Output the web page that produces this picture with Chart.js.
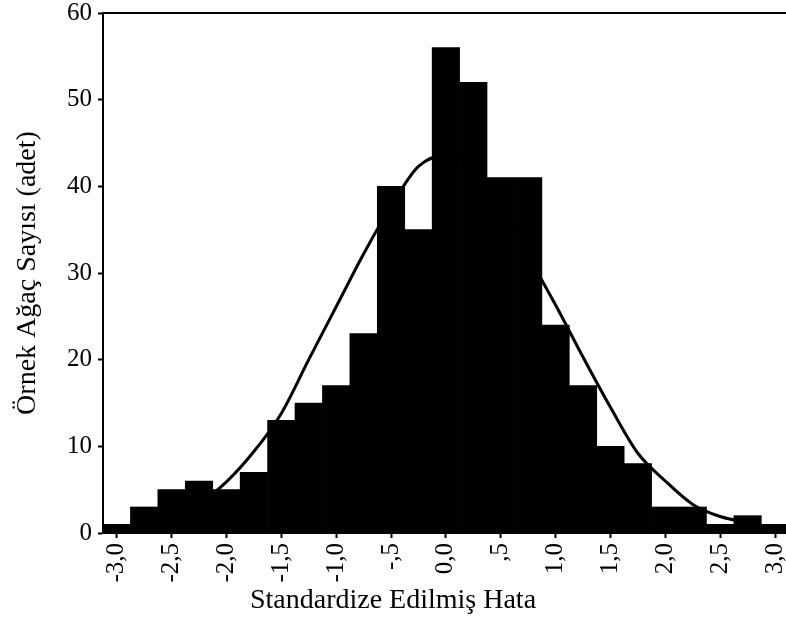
<!DOCTYPE html>
<html>
<head>
<meta charset="utf-8">
<script src="https://cdn.jsdelivr.net/npm/chart.js@4/dist/chart.umd.min.js"></script>
<style>
  body { margin: 0; background: #fff; }
  canvas { display: block; }
</style>
</head>
<body>
<canvas id="histChart" width="786" height="637"></canvas>
<script>
'use strict';

// bin centres of the histogram (width 0,25)
var binCenters = [-3.0, -2.75, -2.5, -2.25, -2.0, -1.75, -1.5, -1.25, -1.0, -0.75, -0.5, -0.25,
                  0.0, 0.25, 0.5, 0.75, 1.0, 1.25, 1.5, 1.75, 2.0, 2.25, 2.5, 2.75, 3.0];
// number of sample trees in each bin
var treeCounts = [1, 3, 5, 6, 5, 7, 13, 15, 17, 23, 40, 35,
                  56, 52, 41, 41, 24, 17, 10, 8, 3, 3, 1, 2, 1];
// fitted normal curve, read at the same bin centres
var normalCurve = [0.4, 1.0, 2.0, 3.4, 5.9, 9.4, 13.8, 20.0, 26.1, 32.2, 37.7, 42.3,
                   43.6, 42.0, 37.5, 32.0, 26.3, 20.3, 14.5, 9.2, 6.0, 3.3, 1.9, 1.2, 0.6];

var xTickValues = [-3.0, -2.5, -2.0, -1.5, -1.0, -0.5, 0.0, 0.5, 1.0, 1.5, 2.0, 2.5, 3.0];
var xTickLabels = ['-3,0', '-2,5', '-2,0', '-1,5', '-1,0', '-,5', '0,0', ',5', '1,0', '1,5', '2,0', '2,5', '3,0'];

var serif = "'Liberation Serif', 'Times New Roman', serif";

function toPoints(xs, ys) {
    var pts = [];
    for (var i = 0; i < xs.length; i++) {
        pts.push({ x: xs[i], y: ys[i] });
    }
    return pts;
}

// line along the top of the plot area
var topFrame = {
    id: 'topFrame',
    afterDraw: function (chart) {
        var ctx = chart.ctx, area = chart.chartArea;
        ctx.save();
        ctx.strokeStyle = '#000';
        ctx.lineWidth = 2;
        ctx.beginPath();
        ctx.moveTo(area.left, area.top);
        ctx.lineTo(area.right, area.top);
        ctx.stroke();
        ctx.restore();
    }
};

var config = {
    type: 'bar',
    data: {
        datasets: [{
            type: 'line',
            data: toPoints(binCenters, normalCurve),
            borderColor: '#000',
            borderWidth: 3,
            pointRadius: 0,
            cubicInterpolationMode: 'monotone',
            order: 0
        }, {
            type: 'bar',
            data: toPoints(binCenters, treeCounts),
            backgroundColor: '#000',
            borderWidth: 0,
            barPercentage: 1.0,
            categoryPercentage: 1.0,
            order: 1
        }]
    },
    options: {
        responsive: false,
        animation: false,
        layout: { padding: { top: 13, left: 0, right: 0, bottom: 0 } },
        plugins: {
            legend: { display: false },
            tooltip: { enabled: false },
            // x axis caption, centred on the whole canvas
            title: {
                display: true,
                position: 'bottom',
                text: 'Standardize Edilmiş Hata',
                color: '#000',
                font: { family: serif, size: 28, weight: 'normal', lineHeight: 1.2 },
                padding: { top: 0, bottom: 20 }
            }
        },
        scales: {
            x: {
                type: 'linear',
                min: -3.125,
                max: 3.1,
                offset: false,
                grid: {
                    offset: false,
                    drawOnChartArea: false,
                    drawTicks: true,
                    tickLength: 5,
                    tickWidth: 2,
                    tickColor: '#000'
                },
                border: { display: true, color: '#000', width: 2 },
                afterBuildTicks: function (scale) {
                    scale.ticks = xTickValues.map(function (v) { return { value: v }; });
                },
                afterFit: function (scale) {
                    scale.height = 50.4;
                    scale.paddingLeft = 0;
                    scale.paddingRight = 0;
                },
                ticks: {
                    autoSkip: false,
                    minRotation: 90,
                    maxRotation: 90,
                    padding: 5,
                    color: '#000',
                    font: { family: serif, size: 25 },
                    callback: function (value, index) { return xTickLabels[index]; }
                }
            },
            y: {
                min: 0,
                max: 60,
                grid: {
                    drawOnChartArea: false,
                    drawTicks: true,
                    tickLength: 5,
                    tickWidth: 2,
                    tickColor: '#000'
                },
                border: { display: true, color: '#000', width: 2 },
                afterFit: function (scale) {
                    scale.width = 103;
                    scale.paddingTop = 0;
                    scale.paddingBottom = 0;
                },
                ticks: {
                    stepSize: 10,
                    padding: 6,
                    color: '#000',
                    font: { family: serif, size: 25 }
                },
                title: {
                    display: true,
                    text: 'Örnek Ağaç Sayısı (adet)',
                    color: '#000',
                    font: { family: serif, size: 28, lineHeight: 1.2 },
                    padding: { top: 11, bottom: 0 }
                }
            }
        }
    },
    plugins: [topFrame]
};

var ctx = document.getElementById('histChart').getContext('2d');
window.histChart = new Chart(ctx, config);
</script>
</body>
</html>
